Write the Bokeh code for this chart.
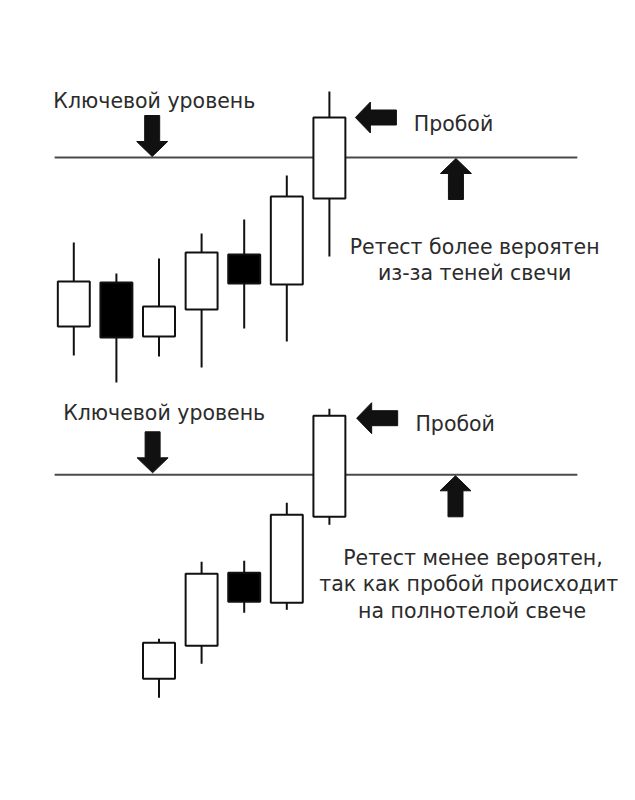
from bokeh.plotting import figure
from bokeh.layouts import column
from bokeh.models import ColumnDataSource, Range1d
from bokeh.core.properties import value
from bokeh.embed import file_html
from bokeh.resources import INLINE

# ---------------- data ----------------
# Top panel candles (index, open, high, low, close)
top_idx = [0, 1, 2, 3, 4, 5, 6]
top_open = [65.5, 87.5, 60.5, 74.0, 101.5, 86.5, 129.5]
top_high = [107.5, 92.0, 99.5, 112.0, 119.0, 141.0, 183.0]
top_low = [51.0, 37.5, 50.5, 45.0, 64.5, 58.0, 100.5]
top_close = [88.0, 60.0, 75.5, 102.5, 87.0, 130.5, 170.0]

# Bottom panel candles
bot_idx = [2, 3, 4, 5, 6]
bot_open = [48.0, 64.5, 101.0, 86.0, 129.0]
bot_high = [68.0, 106.5, 107.0, 136.0, 183.0]
bot_low = [38.5, 55.5, 81.0, 82.5, 125.0]
bot_close = [66.0, 100.5, 86.5, 130.0, 179.5]

key_level = 150.0
level_x = [-0.45, 11.82]

label_key = "Ключевой уровень"
label_break = "Пробой"
top_note = ["Ретест более вероятен", "из-за теней свечи"]
bot_note = ["Ретест менее вероятен,", "так как пробой происходит", "на полнотелой свече"]

# arrow anchors (tip x, tip y, direction)
top_arrows = [(1.84, 150.5, "down"), (6.61, 170.0, "left"), (8.97, 149.5, "up")]
bot_arrows = [(1.85, 151.0, "down"), (6.64, 178.3, "left"), (8.96, 149.5, "up")]

# ---------------- styling / geometry ----------------
W, H = 627, 392
PX_PER_X = 42.6          # pixels per candle index
PX_PER_Y = 2.0           # pixels per price unit
X0_PX = 73.3             # pixel of index 0 inside figure
BODY_W = 0.75
FONT = "DejaVu Sans"
TXT_COLOR = "#2b2b2b"
FS = "20.5px"


def arrow_poly(tx, ty, direction, L=41, sw=15, hw=31, hl=15):
    pts = [(0, 0), (hw / 2, hl), (sw / 2, hl), (sw / 2, L), (-sw / 2, L), (-sw / 2, hl), (-hw / 2, hl)]
    xs, ys = [], []
    for a, b in pts:
        if direction == "down":
            ox, oy = a, b
        elif direction == "up":
            ox, oy = a, -b
        else:  # left
            ox, oy = b, a
        xs.append(tx + ox / PX_PER_X)
        ys.append(ty + oy / PX_PER_Y)
    return xs, ys


def make_panel(y_top_price, idx, o, h, l, c, arrows, key_pos, break_pos, notes, note_pos):
    x_start = -X0_PX / PX_PER_X
    x_end = x_start + W / PX_PER_X
    y_end = y_top_price
    y_start = y_end - H / PX_PER_Y
    p = figure(width=W, height=H, output_backend="svg", toolbar_location=None,
               x_range=Range1d(x_start, x_end), y_range=Range1d(y_start, y_end),
               x_axis_location=None, y_axis_location=None, min_border=0,
               outline_line_color=None, background_fill_color="white",
               border_fill_color="white")
    p.grid.visible = False

    # key level
    p.line(level_x, [key_level, key_level], line_color="#4a4a4a", line_width=2)

    top = [max(a, b) for a, b in zip(o, c)]
    bot = [min(a, b) for a, b in zip(o, c)]
    fill = ["white" if cc >= oo else "black" for oo, cc in zip(o, c)]
    src = ColumnDataSource(dict(x=idx, high=h, low=l, top=top, bottom=bot, fill=fill))
    p.segment(x0="x", y0="low", x1="x", y1="high", source=src, line_color="#111111", line_width=2)
    p.vbar(x="x", width=BODY_W, top="top", bottom="bottom", fill_color="fill",
           line_color="#111111", line_width=2, source=src)

    xs, ys = [], []
    for tx, ty, d in arrows:
        ax, ay = arrow_poly(tx, ty, d)
        xs.append(ax)
        ys.append(ay)
    p.patches(xs, ys, fill_color="#111111", line_color="#111111", line_width=1)

    p.text(x=[key_pos[0]], y=[key_pos[1]], text=[label_key], text_font=value(FONT),
           text_font_size=FS, text_color=TXT_COLOR, text_baseline="alphabetic", text_align="left")
    p.text(x=[break_pos[0]], y=[break_pos[1]], text=[label_break], text_font=value(FONT),
           text_font_size=FS, text_color=TXT_COLOR, text_baseline="alphabetic", text_align="left")
    p.text(x=[q[0] for q in note_pos], y=[q[1] for q in note_pos], text=notes, text_font=value(FONT),
           text_font_size=FS, text_color=TXT_COLOR, text_baseline="alphabetic", text_align="center")
    return p


p1 = make_panel(228.5, top_idx, top_open, top_high, top_low, top_close, top_arrows,
                (-0.48, 178.25), (7.98, 167.0), top_note, [(9.41, 105.5), (9.41, 92.5)])
p2 = make_panel(191.15, bot_idx, bot_open, bot_high, bot_low, bot_close, bot_arrows,
                (-0.25, 181.0), (8.02, 175.5), bot_note, [(9.37, 108.2), (9.27, 95.2), (9.35, 81.7)])

layout = column(p1, p2, spacing=0)
open("out.html", "w").write(file_html(layout, INLINE))
